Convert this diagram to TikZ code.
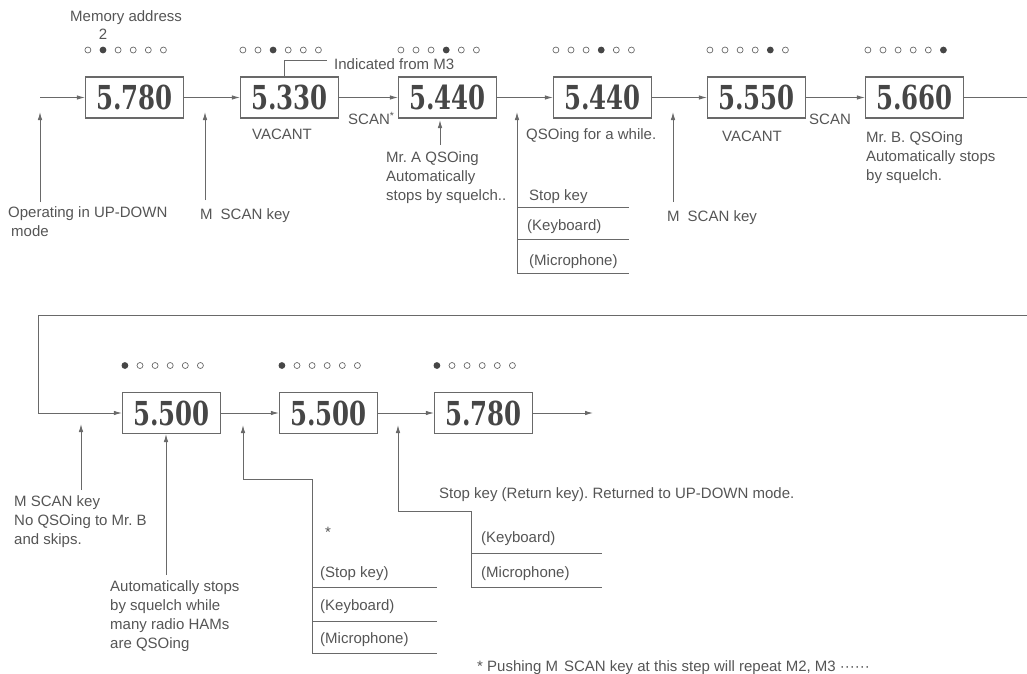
\documentclass[tikz,border=0pt]{standalone}
\usepackage{fontspec}
\setmainfont{Liberation Sans}
\newfontfamily\lcdfont{DejaVu Serif}[FakeStretch=0.74]
\usepackage{tikz}
\usetikzlibrary{arrows.meta,calc}
\definecolor{wiregray}{RGB}{105,105,105}
\definecolor{inkgray}{RGB}{85,85,85}
\definecolor{digitgray}{RGB}{70,70,70}
\frenchspacing

\newcommand{\leds}[2]{%
  \foreach \i in {1,...,6}{%
    \ifnum\i=#2
      \fill[digitgray] ($(#1.west)+(3+15.1*\i-15.1,-47.5)$) circle (3.4pt);
    \else
      \draw[wiregray,line width=0.7pt] ($(#1.west)+(3+15.1*\i-15.1,-47.5)$) circle (3pt);
    \fi}}

\begin{document}
\begin{tikzpicture}[
  x=1pt, y=-1pt,
  display/.style={draw=wiregray, line width=1.2pt, minimum width=98pt, minimum height=41pt, inner sep=0pt, text=digitgray, font=\lcdfont\bfseries\fontsize{33}{33}\selectfont},
  note/.style={inner sep=0pt, anchor=north west, align=left, text=inkgray, font=\fontsize{15}{19}\selectfont},
  wire/.style={draw=wiregray, line width=0.9pt},
  flow/.style={wire, -{Latex[length=8pt,width=4.5pt]}}
  ]
  \useasboundingbox (0,0) rectangle (1027,673);

  \node[display] (d1) at (134.5,97.5) {5.780};
  \node[display] (d2) at (289.5,97.5) {5.330};
  \node[display] (d3) at (447.5,97.5) {5.440};
  \node[display] (d4) at (602.5,97.5) {5.440};
  \node[display] (d5) at (756.5,97.5) {5.550};
  \node[display] (d6) at (914.5,97.5) {5.660};
  \node[display] (d7) at (171.5,413) {5.500};
  \node[display] (d8) at (328.5,413) {5.500};
  \node[display] (d9) at (483.5,413) {5.780};

  \leds{d1}{2} \leds{d2}{3} \leds{d3}{4} \leds{d4}{4} \leds{d5}{5} \leds{d6}{6}
  \leds{d7}{1} \leds{d8}{1} \leds{d9}{1}

  \node[note] (mem) at (70,10) {Memory address};
  \node[note, anchor=center] (two) at (103,34) {2};
  \node[note, anchor=west] (ind) at (334,64) {Indicated from M3};
  \node[note] (scan1) at (348,112) {SCAN\textsuperscript{*}};
  \node[note, anchor=center] (vac1) at (282,134) {VACANT};
  \node[note] (qso) at (526,128) {QSOing for a while.};
  \node[note, anchor=center] (vac2) at (752,136) {VACANT};
  \node[note] (scan2) at (809,114) {SCAN};
  \node[note] (mrb) at (866,131) {Mr. B. QSOing\\Automatically stops\\by squelch.};
  \node[note] (mra) at (386,151) {Mr. A QSOing\\Automatically\\stops by squelch..};
  \node[note] (opmode) at (8,206) {Operating in UP-DOWN\\\hspace{3pt}mode};
  \node[note] (key1) at (200,208) {M\hspace{8pt}SCAN key};
  \node[note] (key2) at (667,210) {M\hspace{8pt}SCAN key};
  \node[note] (stop1) at (529,189) {Stop key};
  \node[note] (kb1) at (527,219) {(Keyboard)};
  \node[note] (mic1) at (529,254) {(Microphone)};

  \node[note] (skip) at (14,495) {M SCAN key\\No QSOing to Mr. B\\and skips.};
  \node[note] (many) at (110,580) {Automatically stops\\by squelch while\\many radio HAMs\\are QSOing};
  \node[note, anchor=center] (star) at (328,532) {*};
  \node[note] (stop2) at (320,566) {(Stop key)};
  \node[note] (kb2) at (320,599) {(Keyboard)};
  \node[note] (mic2) at (320,632) {(Microphone)};
  \node[note] (ret) at (439,487) {Stop key (Return key). Returned to UP-DOWN mode.};
  \node[note] (kb3) at (481,531) {(Keyboard)};
  \node[note] (mic3) at (481,566) {(Microphone)};
  \node[note] (foot) at (477,660) {* Pushing M\hspace{6pt}SCAN key at this step will repeat M2, M3 ······};

  \coordinate (in) at (40,97.5);
  \coordinate (outR) at (1027,97.5);
  \coordinate (inR) at (1027,315);
  \coordinate (turn) at (38,315);
  \coordinate (end) at (593,413);

  \draw[flow] (in) -- (d1);
  \draw[flow] (d1) -- (d2);
  \draw[flow] (d2) -- (d3);
  \draw[flow] (d3) -- (d4);
  \draw[flow] (d4) -- (d5);
  \draw[flow] (d5) -- (d6);
  \draw[wire] (d6) -- (outR);
  \draw[flow] (inR) -- (turn) |- (d7);
  \draw[flow] (d7) -- (d8);
  \draw[flow] (d8) -- (d9);
  \draw[flow] (d9) -- (end);

  \draw[wire] ([xshift=-5.5pt]d2.north) |- ([xshift=-7pt,yshift=4pt]ind.west);

  \coordinate (s1) at (40,202);   \coordinate (t1) at (40,112);
  \coordinate (s2) at (205,200);  \coordinate (t2) at (205,112);
  \coordinate (s3) at (440,145);  \coordinate (t3) at (440,120);
  \coordinate (s4) at (517,273);  \coordinate (t4) at (517,112);
  \coordinate (s5) at (673,202);  \coordinate (t5) at (673,112);
  \draw[flow] (s1) -- (t1);
  \draw[flow] (s2) -- (t2);
  \draw[flow] (s3) -- (t3);
  \draw[flow] (s4) -- (t4);
  \draw[flow] (s5) -- (t5);
  \foreach \y in {207,239,273}
    \draw[wire] (517,\y) -- (629,\y);

  \coordinate (u1) at (81,490);   \coordinate (v1) at (81,424);
  \coordinate (u2) at (166,575);  \coordinate (v2) at (166,434);
  \coordinate (u3) at (312,653);  \coordinate (v3) at (243,425);
  \coordinate (u4) at (471,587);  \coordinate (v4) at (398,425);
  \draw[flow] (u1) -- (v1);
  \draw[flow] (u2) -- (v2);
  \draw[flow] (u3) |- ([yshift=-54pt]v3) -- (v3);
  \draw[flow] (u4) |- ([yshift=-86pt]v4) -- (v4);
  \foreach \y in {587,621,653}
    \draw[wire] (312,\y) -- (437,\y);
  \foreach \y in {553,587}
    \draw[wire] (471,\y) -- (602,\y);
\end{tikzpicture}
\end{document}
